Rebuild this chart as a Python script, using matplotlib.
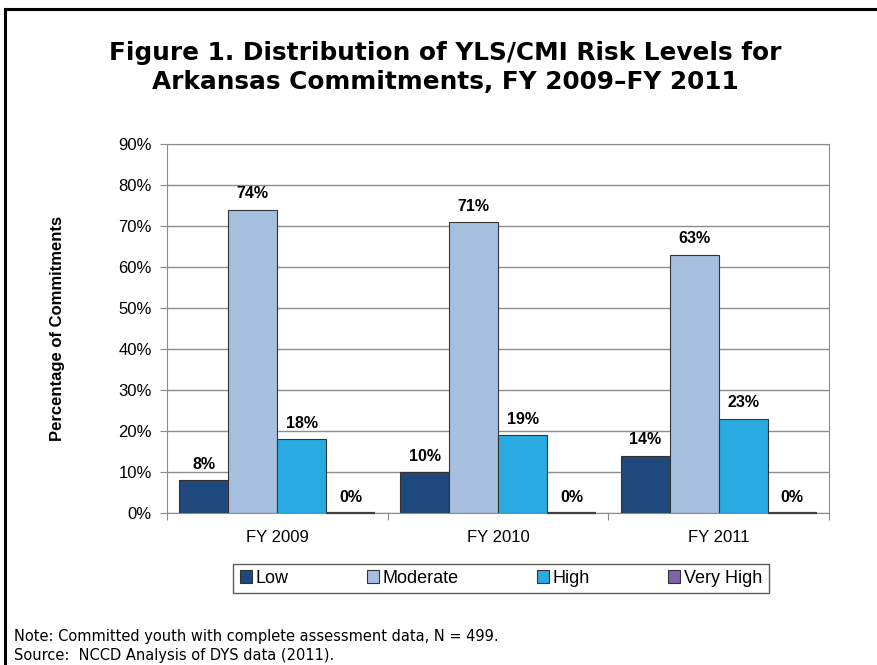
import matplotlib.pyplot as plt
from matplotlib.lines import Line2D
from matplotlib.patches import Patch
import numpy as np

# Years and risk levels
years = ["FY 2009", "FY 2010", "FY 2011"]
levels = ["Low", "Moderate", "High", "Very High"]

# Percent of commitments at each risk level
low = [8, 10, 14]
moderate = [74, 71, 63]
high = [18, 19, 23]
very_high = [0, 0, 0]

colors = ["#1F497D", "#A7BFDE", "#29ABE2", "#7E63A8"]

fig = plt.figure(figsize=(8.77, 6.65), dpi=100)
ax = fig.add_axes([0.1904, 0.2286, 0.7549, 0.5549])

x = np.arange(len(years))
width = 0.222
series = [low, moderate, high, very_high]
for i, vals in enumerate(series):
    pos = x + (i - 1.5) * width
    if i < 3:
        ax.bar(pos, vals, width, color=colors[i], edgecolor="#333333",
               linewidth=0.8, zorder=3)
    else:
        # zero-height bars show up only as a dark line on the axis
        ax.bar(pos, vals, width, color="#404040", edgecolor="#404040",
               linewidth=1.6, zorder=4, clip_on=False)
    for px, v in zip(pos, vals):
        ax.annotate(f"{v}%", (px, v), xytext=(0, 6), textcoords="offset points",
                    ha="center", va="bottom", fontsize=11.5, fontweight="bold",
                    family="Liberation Sans")

ax.set_xlim(-0.5, 2.5)
ax.set_ylim(0, 90)
ax.set_yticks(range(0, 91, 10))
ax.set_yticklabels([f"{t}%" for t in range(0, 91, 10)], family="Liberation Sans", fontsize=12)
ax.set_xticks([-0.5, 0.5, 1.5, 2.5])
ax.set_xticklabels([])
ax.set_xticks(x, minor=True)
ax.set_xticklabels(years, minor=True, family="Liberation Sans", fontsize=12)
ax.tick_params(axis="x", which="minor", length=0, pad=12)
ax.tick_params(axis="x", which="major", length=5, color="#888888", direction="out")
ax.tick_params(axis="y", length=5, color="#888888", pad=6)
ax.grid(axis="y", color="#8C8C8C", linewidth=1, zorder=0)
for s in ax.spines.values():
    s.set_color("#8C8C8C")

ax.set_ylabel("Percentage of Commitments", family="Liberation Sans", fontsize=12,
              fontweight="bold", labelpad=38)

handles = [Patch(facecolor=c, edgecolor="#333333", linewidth=0.8) for c in colors]
leg = fig.legend(handles, levels, ncol=4, loc="center",
                 bbox_to_anchor=(0.5712, 0.13), frameon=True, fancybox=False,
                 edgecolor="#333333", prop={"family": "Liberation Sans", "size": 13},
                 handlelength=0.7, handleheight=0.7, handletextpad=0.2,
                 columnspacing=4.3, borderpad=0.35)
leg.get_frame().set_linewidth(1)

fig.text(0.508, 0.899, "Figure 1. Distribution of YLS/CMI Risk Levels for\nArkansas Commitments, FY 2009\u2013FY 2011",
         ha="center", va="center", fontsize=17.8, fontweight="bold", linespacing=1.25)

fig.text(0.016, 0.043, "Note: Committed youth with complete assessment data, N = 499.",
         fontsize=10.5, va="center", ha="left")
fig.text(0.016, 0.015, "Source:  NCCD Analysis of DYS data (2011).",
         fontsize=10.5, va="center", ha="left")

# page border (left and top)
fig.add_artist(Line2D([0.006, 0.006], [0, 0.987], color="black", linewidth=2.2))
fig.add_artist(Line2D([0.006, 1.0], [0.987, 0.987], color="black", linewidth=2.2))

plt.savefig("out.png", dpi=100)
plt.close(fig)
